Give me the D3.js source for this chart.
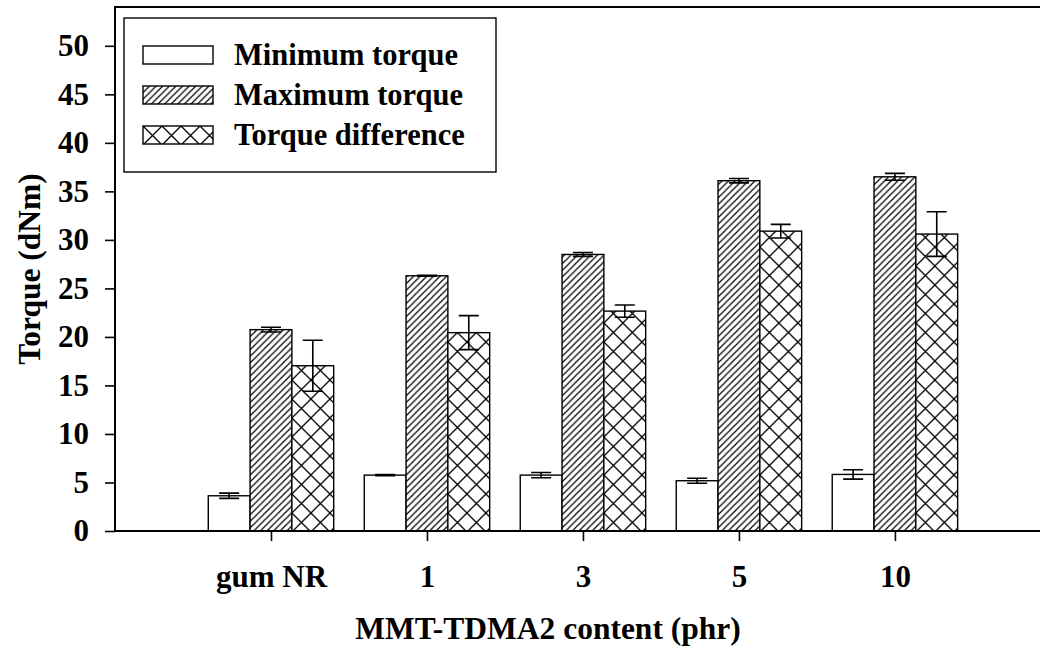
<!DOCTYPE html>
<html>
<head>
<meta charset="utf-8">
<script src="https://cdn.jsdelivr.net/npm/d3@7"></script>
<style>
  html, body { margin: 0; padding: 0; background: #fff; }
  svg { display: block; }
  text { font-family: "Liberation Serif", "Times New Roman", serif; font-weight: bold; fill: #000; }
</style>
</head>
<body>
<svg id="chart" width="1040" height="647"></svg>
<script>
// Cure characteristics of NR compounds vs. organoclay loading
const categories = ["gum NR", "1", "3", "5", "10"];
const minTorque  = [3.63, 5.76, 5.76, 5.18, 5.83];
const minErr     = [0.27, 0.05, 0.27, 0.26, 0.48];
const maxTorque  = [20.75, 26.3, 28.5, 36.1, 36.5];
const maxErr     = [0.24, 0.05, 0.2, 0.22, 0.35];
const diffTorque = [17.03, 20.44, 22.66, 30.9, 30.6];
const diffErr    = [2.63, 1.75, 0.63, 0.7, 2.3];
const yTicks     = [0, 5, 10, 15, 20, 25, 30, 35, 40, 45, 50];
const seriesNames = ["Minimum torque", "Maximum torque", "Torque difference"];

const series = [
  { name: seriesNames[0], values: minTorque,  errors: minErr,  fill: "#fff" },
  { name: seriesNames[1], values: maxTorque,  errors: maxErr,  fill: "url(#diag)" },
  { name: seriesNames[2], values: diffTorque, errors: diffErr, fill: "url(#cross)" }
];

const svg = d3.select("#chart");
const W = 1040, H = 647;
const plotLeft = 115, plotTop = 7, plotBottom = 531;

const x = d3.scaleLinear().domain([0, 5.93]).range([plotLeft, W]);
const y = d3.scaleLinear().domain([0, 54]).range([plotBottom, plotTop]);
const barW = 0.268; // bar width in category units

// hatch fills
const defs = svg.append("defs");
const p = 6.6;
const diag = defs.append("pattern").attr("id", "diag").attr("patternUnits", "userSpaceOnUse")
  .attr("width", p).attr("height", p);
diag.append("rect").attr("width", p).attr("height", p).attr("fill", "#fff");
diag.append("path")
  .attr("d", `M0,${p} L${p},0 M${-p/4},${p/4} L${p/4},${-p/4} M${3*p/4},${5*p/4} L${5*p/4},${3*p/4}`)
  .attr("stroke", "#000").attr("stroke-width", 1.2).attr("fill", "none");
const s = 19;
const cross = defs.append("pattern").attr("id", "cross").attr("patternUnits", "userSpaceOnUse")
  .attr("width", s).attr("height", s);
cross.append("rect").attr("width", s).attr("height", s).attr("fill", "#fff");
cross.append("path")
  .attr("d", `M0,0 L${s},${s} M${s},0 L0,${s}`)
  .attr("stroke", "#000").attr("stroke-width", 1.3).attr("fill", "none");

// bars
const unitPx = x(1) - x(0);
series.forEach((ser, si) => {
  const g = svg.append("g");
  ser.values.forEach((v, i) => {
    const x0 = x(i + 1 + (si - 1.5) * barW);
    const w = barW * unitPx;
    const bg = g.append("g").attr("transform", `translate(${x0},0)`);
    bg.append("rect")
      .attr("x", 0).attr("y", y(v))
      .attr("width", w).attr("height", y(0) - y(v))
      .attr("fill", ser.fill)
      .attr("stroke", "#000").attr("stroke-width", 1.4);
  });
});

// error bars
series.forEach((ser, si) => {
  ser.values.forEach((v, i) => {
    const cx = x(i + 1 + (si - 1) * barW);
    const e = ser.errors[i];
    const hi = y(v + e), lo = y(v - e);
    const cap = 10;
    svg.append("path")
      .attr("d", `M${cx},${hi} L${cx},${lo} M${cx - cap},${hi} L${cx + cap},${hi} M${cx - cap},${lo} L${cx + cap},${lo}`)
      .attr("stroke", "#000").attr("stroke-width", 1.6).attr("fill", "none");
  });
});

// axes
const yAxis = d3.axisLeft(y).tickValues(yTicks).tickSize(10).tickPadding(16).tickFormat(d3.format("d"));
const yg = svg.append("g").attr("transform", `translate(${plotLeft},0)`).call(yAxis);
yg.select(".domain").remove();
yg.selectAll(".tick line").attr("stroke", "#000").attr("stroke-width", 1.6);
yg.selectAll(".tick text").attr("font-size", 31).attr("font-family", null);

const xAxis = d3.axisBottom(x).tickValues(categories.map((c, i) => i + 1))
  .tickFormat((d) => categories[d - 1]).tickSize(10).tickPadding(24);
const xg = svg.append("g").attr("transform", `translate(0,${plotBottom})`).call(xAxis);
xg.select(".domain").remove();
xg.selectAll(".tick line").attr("stroke", "#000").attr("stroke-width", 1.6);
xg.selectAll(".tick text").attr("font-size", 31).attr("font-family", null);

// frame: left spine, bottom axis, top line
svg.append("path")
  .attr("d", `M${W},${plotTop} L${plotLeft},${plotTop} L${plotLeft},${plotBottom} L${W},${plotBottom}`)
  .attr("stroke", "#000").attr("stroke-width", 2).attr("fill", "none");

// axis titles
svg.append("text")
  .attr("x", 548).attr("y", 639)
  .attr("text-anchor", "middle").attr("font-size", 31.5)
  .text("MMT-TDMA2 content (phr)");
svg.append("text")
  .attr("transform", "translate(40,269) rotate(-90)")
  .attr("text-anchor", "middle").attr("font-size", 31.5)
  .text("Torque (dNm)");

// legend
const lg = svg.append("g");
lg.append("rect").attr("x", 124).attr("y", 18).attr("width", 372).attr("height", 154)
  .attr("fill", "#fff").attr("stroke", "#000").attr("stroke-width", 1.4);
series.forEach((ser, si) => {
  const cy = 55 + si * 40;
  const sg = lg.append("g").attr("transform", `translate(143,${cy - 9})`);
  sg.append("rect").attr("x", 0).attr("y", 0).attr("width", 70).attr("height", 18)
    .attr("fill", ser.fill).attr("stroke", "#000").attr("stroke-width", 1.4);
  lg.append("text").attr("x", 234).attr("y", cy + 10).attr("font-size", 30.5).text(ser.name);
});
</script>
</body>
</html>
